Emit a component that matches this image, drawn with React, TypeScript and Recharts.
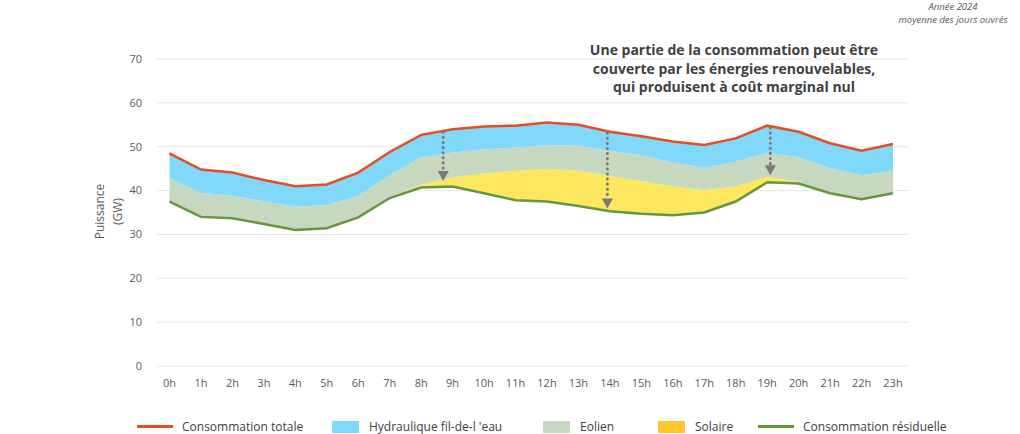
import React from "react";
import {
  Area,
  CartesianGrid,
  ComposedChart,
  Line,
  ReferenceLine,
  XAxis,
  YAxis,
} from "recharts";

// Moyenne des jours ouvrés 2024, en GW, lue heure par heure
const hours = [0, 1, 2, 3, 4, 5, 6, 7, 8, 9, 10, 11, 12, 13, 14, 15, 16, 17, 18, 19, 20, 21, 22, 23];
const hourLabels = [
  "0h", "1h", "2h", "3h", "4h", "5h", "6h", "7h", "8h", "9h", "10h", "11h",
  "12h", "13h", "14h", "15h", "16h", "17h", "18h", "19h", "20h", "21h", "22h", "23h",
];
const consoTotale = [
  48.5, 44.8, 44.1, 42.4, 41.0, 41.4, 44.1, 48.8, 52.7, 54.0, 54.6, 54.8,
  55.5, 55.0, 53.4, 52.4, 51.2, 50.4, 51.9, 54.8, 53.4, 50.8, 49.1, 50.6,
];
const consoResiduelle = [
  37.5, 34.0, 33.7, 32.4, 31.0, 31.4, 33.9, 38.3, 40.7, 40.9, 39.4, 37.8,
  37.5, 36.5, 35.3, 34.7, 34.4, 35.0, 37.5, 41.9, 41.6, 39.4, 38.0, 39.4,
];
const solaire = [
  0, 0, 0, 0, 0, 0, 0, 0.2, 0.7, 2.1, 4.5, 6.7,
  7.5, 8.0, 8.0, 7.5, 6.6, 5.1, 3.5, 1.3, 0.4, 0, 0, 0,
];
const eolien = [
  5.3, 5.5, 5.1, 5.1, 5.3, 5.3, 4.9, 5.0, 6.2, 5.7, 5.5, 5.3,
  5.4, 5.7, 5.8, 5.9, 5.4, 5.1, 5.6, 5.4, 5.6, 5.7, 5.5, 5.1,
];
const yTicks = [0, 10, 20, 30, 40, 50, 60, 70];

// flèches pointillées : heure, départ, arrivée (GW)
const arrowHours = [8.7, 13.92, 19.1];
const arrowFrom = [53.3, 53.1, 54.3];
const arrowTo = [42.2, 35.9, 43.5];

const RED = "#e84c22";
const BLUE = "#80d8fb";
const GREEN_AREA = "#c6d8c0";
const YELLOW_AREA = "#fde75e";
const YELLOW_LEGEND = "#ffc72c";
const GREEN_LINE = "#66963f";
const GREY = "#7a7a7a";

const FONT = "'Open Sans', 'Noto Sans', sans-serif";

const data = hours.map((h, i) => ({
  hour: h,
  base: consoResiduelle[i],
  solaire: solaire[i],
  eolien: eolien[i],
  hydraulique: +(consoTotale[i] - consoResiduelle[i] - solaire[i] - eolien[i]).toFixed(2),
  total: consoTotale[i],
  residuelle: consoResiduelle[i],
}));

const legendItems = [
  { label: "Consommation totale", color: RED, kind: "line" },
  { label: "Hydraulique fil-de-l 'eau", color: BLUE, kind: "box" },
  { label: "Eolien", color: GREEN_AREA, kind: "box" },
  { label: "Solaire", color: YELLOW_LEGEND, kind: "box" },
  { label: "Consommation résiduelle", color: GREEN_LINE, kind: "line" },
];
const legendSlots = [195, 211, 115, 100, 200];

function DottedArrow(props: any) {
  const { x1, y1, x2, y2 } = props;
  const head = 10;
  return (
    <g>
      <line
        x1={x1}
        y1={y1}
        x2={x2}
        y2={y2 - head}
        stroke={GREY}
        strokeWidth={3}
        strokeDasharray="0.1 5"
        strokeLinecap="round"
      />
      <polygon
        points={`${x2 - 5.5},${y2 - head} ${x2 + 5.5},${y2 - head} ${x2},${y2}`}
        fill={GREY}
      />
    </g>
  );
}

export default function App() {
  return (
    <div
      style={{
        position: "absolute",
        left: 0,
        top: 0,
        width: 1020,
        height: 434,
        background: "#fff",
        fontFamily: FONT,
        overflow: "hidden",
      }}
    >
      <div
        style={{
          position: "absolute",
          left: 853,
          top: 0,
          width: 200,
          textAlign: "center",
          fontStyle: "italic",
          fontSize: 9.5,
          lineHeight: "13px",
          color: "#595959",
        }}
      >
        <div>Année 2024</div>
        <div>moyenne des jours ouvrés</div>
      </div>

      <div
        style={{
          position: "absolute",
          left: 534,
          top: 41,
          width: 400,
          textAlign: "center",
          fontWeight: 700,
          fontSize: 14,
          lineHeight: "18.5px",
          color: "#404040",
        }}
      >
        Une partie de la consommation peut être
        <br />
        couverte par les énergies renouvelables,
        <br />
        qui produisent à coût marginal nul
      </div>

      <div
        style={{
          position: "absolute",
          left: 58,
          top: 194,
          width: 100,
          height: 35,
          textAlign: "center",
          fontSize: 12,
          lineHeight: "17.5px",
          color: "#595959",
          transform: "rotate(-90deg)",
        }}
      >
        Puissance
        <br />
        (GW)
      </div>

      <ComposedChart
        width={1020}
        height={434}
        data={data}
        margin={{ top: 59, right: 112, bottom: 0, left: 0 }}
      >
        <CartesianGrid vertical={false} stroke="#e6e6e6" />
        <XAxis
          dataKey="hour"
          type="number"
          domain={[0, 23]}
          ticks={hours}
          tickFormatter={(v: number) => hourLabels[v]}
          padding={{ left: 12.5, right: 15 }}
          height={68}
          tickLine={false}
          axisLine={false}
          tickMargin={7}
          tick={{ fill: "#595959", fontSize: 11, fontFamily: FONT }}
          interval={0}
        />
        <YAxis
          domain={[0, 70]}
          ticks={yTicks}
          width={157}
          tickLine={false}
          axisLine={false}
          tickMargin={9}
          tick={{ fill: "#595959", fontSize: 11, fontFamily: FONT }}
        />
        <Area
          dataKey="base"
          stackId="s"
          type="linear"
          stroke="none"
          fill="none"
          fillOpacity={0}
          isAnimationActive={false}
          activeDot={false}
        />
        <Area
          dataKey="solaire"
          stackId="s"
          type="linear"
          stroke="none"
          fill={YELLOW_AREA}
          fillOpacity={1}
          isAnimationActive={false}
          activeDot={false}
        />
        <Area
          dataKey="eolien"
          stackId="s"
          type="linear"
          stroke="none"
          fill={GREEN_AREA}
          fillOpacity={1}
          isAnimationActive={false}
          activeDot={false}
        />
        <Area
          dataKey="hydraulique"
          stackId="s"
          type="linear"
          stroke="none"
          fill={BLUE}
          fillOpacity={1}
          isAnimationActive={false}
          activeDot={false}
        />
        <Line
          dataKey="residuelle"
          type="linear"
          stroke={GREEN_LINE}
          strokeWidth={2.5}
          dot={false}
          activeDot={false}
          isAnimationActive={false}
        />
        <Line
          dataKey="total"
          type="linear"
          stroke={RED}
          strokeWidth={2.5}
          dot={false}
          activeDot={false}
          isAnimationActive={false}
        />
        {arrowHours.map((h, i) => (
          <ReferenceLine
            key={h}
            segment={[
              { x: h, y: arrowFrom[i] },
              { x: h, y: arrowTo[i] },
            ]}
            stroke={GREY}
            shape={DottedArrow}
            ifOverflow="visible"
          />
        ))}
      </ComposedChart>

      <div
        style={{
          position: "absolute",
          left: 137,
          top: 419,
          height: 15,
          display: "flex",
          alignItems: "center",
          fontSize: 12,
          lineHeight: "14px",
          color: "#404040",
          whiteSpace: "nowrap",
        }}
      >
        {legendItems.map((item, i) => (
          <div
            key={item.label}
            style={{ width: legendSlots[i], display: "flex", alignItems: "center" }}
          >
            {item.kind === "line" ? (
              <span
                style={{
                  display: "inline-block",
                  width: 36,
                  height: 3,
                  background: item.color,
                  marginRight: 9,
                }}
              />
            ) : (
              <span
                style={{
                  display: "inline-block",
                  width: 27,
                  height: 12,
                  background: item.color,
                  marginRight: 10,
                }}
              />
            )}
            <span>{item.label}</span>
          </div>
        ))}
      </div>
    </div>
  );
}
